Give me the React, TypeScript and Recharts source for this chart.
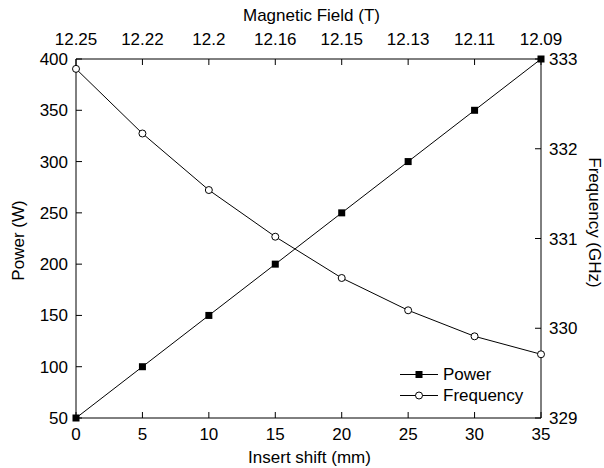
import React from "react";
import { ComposedChart, Line, XAxis, YAxis } from "recharts";

const shift = [0, 5, 10, 15, 20, 25, 30, 35];
const fieldLabels = ["12.25", "12.22", "12.2", "12.16", "12.15", "12.13", "12.11", "12.09"];
const power = [50, 100, 150, 200, 250, 300, 350, 400];
const frequency = [332.89, 332.17, 331.54, 331.02, 330.56, 330.2, 329.91, 329.71];
const powerTicks = [50, 100, 150, 200, 250, 300, 350, 400];
const freqTicks = [329, 330, 331, 332, 333];

const data = shift.map((s, i) => ({ shift: s, power: power[i], frequency: frequency[i] }));

const FONT = "'Liberation Sans', Arial, sans-serif";
const tickStyle = { fill: "#000", fontSize: 17, fontFamily: FONT };
const labelStyle = { fill: "#000", fontSize: 17, fontFamily: FONT };

const SquareDot = (props: any) => {
  const { cx, cy, index } = props;
  if (cx == null || cy == null) return null;
  return <rect key={`sq-${index}`} x={cx - 3.5} y={cy - 3.5} width={7} height={7} fill="#000" />;
};

const LegendBox = () => (
  <div
    style={{
      position: "absolute",
      left: 399,
      top: 364,
      fontFamily: FONT,
      fontSize: 17,
      color: "#000",
      lineHeight: "21px",
    }}
  >
    <div style={{ display: "flex", alignItems: "center", height: 21 }}>
      <svg width={44} height={21}>
        <line x1={1} x2={39} y1={10.5} y2={10.5} stroke="#000" strokeWidth={1} />
        <rect x={16.5} y={7} width={7} height={7} fill="#000" />
      </svg>
      <span>Power</span>
    </div>
    <div style={{ display: "flex", alignItems: "center", height: 21 }}>
      <svg width={44} height={21}>
        <line x1={1} x2={39} y1={10.5} y2={10.5} stroke="#000" strokeWidth={1} />
        <circle cx={20} cy={10.5} r={3.5} fill="#fff" stroke="#000" strokeWidth={1} />
      </svg>
      <span>Frequency</span>
    </div>
  </div>
);

export default function App() {
  return (
    <div style={{ position: "absolute", left: 0, top: 0, width: 604, height: 468, background: "#fff" }}>
      <ComposedChart
        width={604}
        height={468}
        data={data}
        margin={{ top: 19, right: 13, bottom: 10, left: 16 }}
      >
        <XAxis
          xAxisId="bottom"
          dataKey="shift"
          type="number"
          domain={[0, 35]}
          ticks={shift}
          interval={0}
          orientation="bottom"
          height={40}
          tickSize={-6}
          tickMargin={16}
          tick={tickStyle}
          stroke="#000"
          label={{ value: "Insert shift (mm)", position: "center", dx: 1, dy: 19, style: labelStyle }}
        />
        <XAxis
          xAxisId="top"
          dataKey="shift"
          type="number"
          domain={[0, 35]}
          ticks={shift}
          interval={0}
          orientation="top"
          height={40}
          tickSize={-6}
          tickMargin={20}
          tick={tickStyle}
          stroke="#000"
          tickFormatter={(v: number) => fieldLabels[shift.indexOf(v)]}
          label={{ value: "Magnetic Field (T)", position: "center", dx: 3, dy: -24, style: labelStyle }}
        />
        <YAxis
          yAxisId="left"
          type="number"
          domain={[50, 400]}
          ticks={powerTicks}
          interval={0}
          width={60}
          tickSize={-6}
          tickMargin={14}
          tick={tickStyle}
          stroke="#000"
          label={{ value: "Power (W)", angle: -90, position: "center", dx: -28, dy: 2, style: labelStyle }}
        />
        <YAxis
          yAxisId="right"
          orientation="right"
          type="number"
          domain={[329, 333]}
          ticks={freqTicks}
          interval={0}
          width={50}
          tickSize={-6}
          tickMargin={14}
          tick={tickStyle}
          stroke="#000"
          label={{ value: "Frequency (GHz)", angle: 90, position: "center", dx: 29, dy: -16, style: labelStyle }}
        />
        <Line
          xAxisId="bottom"
          yAxisId="left"
          dataKey="power"
          name="Power"
          type="linear"
          stroke="#000"
          strokeWidth={1}
          dot={SquareDot}
          activeDot={false}
          isAnimationActive={false}
        />
        <Line
          xAxisId="bottom"
          yAxisId="right"
          dataKey="frequency"
          name="Frequency"
          type="linear"
          stroke="#000"
          strokeWidth={1}
          dot={{ r: 3.5, fill: "#fff", stroke: "#000", strokeWidth: 1 }}
          activeDot={false}
          isAnimationActive={false}
        />
      </ComposedChart>
      <LegendBox />
    </div>
  );
}
